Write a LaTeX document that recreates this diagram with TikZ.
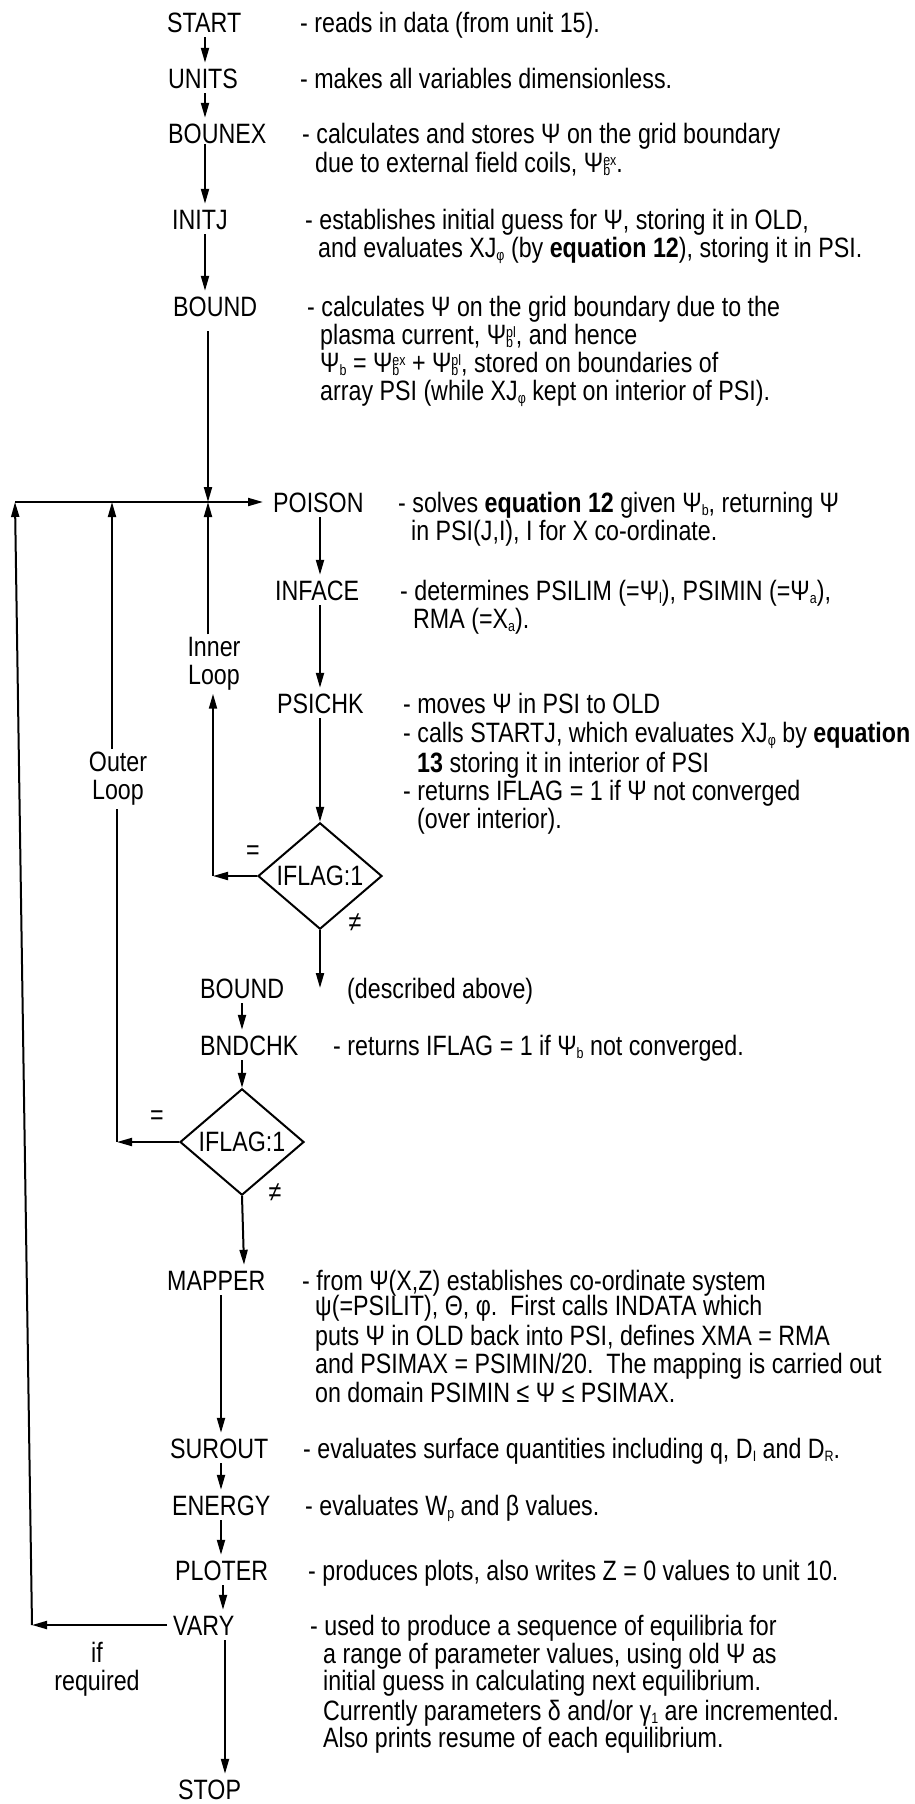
\documentclass[tikz,border=0pt]{standalone}
\usepackage{fontspec}
\setmainfont{Liberation Sans}[FakeStretch=0.83]
\usetikzlibrary{arrows.meta,shapes.geometric}
\newcommand\sfs{\fontsize{15}{15}\selectfont}
\newcommand\lo[1]{\smash{\raisebox{-3pt}{\sfs #1}}}
\newcommand\lohi[2]{\smash{\rlap{\raisebox{-3pt}{\sfs #1}}\raisebox{7pt}{\sfs #2}}}
\begin{document}
\begin{tikzpicture}[x=1pt,y=-1pt,
  every node/.style={font=\fontsize{28}{28}\selectfont},
  prog/.style={anchor=base west, inner xsep=0pt, inner ysep=5pt, text height=20pt, text depth=0pt},
  desc/.style={anchor=base west, inner sep=0pt},
  loopl/.style={align=center, inner sep=3pt},
  dia/.style={diamond, draw, line width=2pt, minimum width=124pt, minimum height=72pt, inner sep=0pt},
  arr/.style={line width=2pt, -{Triangle[length=15pt,width=8pt]}},
  ln/.style={line width=2pt}]
\fill[white] (0,0) rectangle (914,1804);
\useasboundingbox (0,0) rectangle (914,1804);

% program nodes
\node[prog] (start) at (167,32) {START};
\node[prog] (units) at (168,88) {UNITS};
\node[prog] (bounex) at (168,143) {BOUNEX};
\node[prog] (initj) at (172,229) {INITJ};
\node[prog] (bound) at (173,316) {BOUND};
\node[prog] (poison) at (273,512) {POISON};
\node[prog] (inface) at (275,600) {INFACE};
\node[prog] (psichk) at (277,713) {PSICHK};
\node[dia] (d1) at (320,876) {IFLAG:1};
\node[prog] (bound2) at (200,998) {BOUND};
\node[prog] (bndchk) at (200,1055) {BNDCHK};
\node[dia] (d2) at (242,1142) {IFLAG:1};
\node[prog] (mapper) at (167,1290) {MAPPER};
\node[prog] (surout) at (170,1458) {SUROUT};
\node[prog] (energy) at (172,1515) {ENERGY};
\node[prog] (ploter) at (175,1580) {PLOTER};
\node[prog] (vary) at (173,1635) {VARY};
\node[prog] (stop) at (178,1799) {STOP};

% loop labels
\node[loopl] (inner) at (214,664) {Inner\\Loop};
\node[loopl] (outer) at (118,779) {Outer\\Loop};
\node[loopl] (ifreq) at (97,1669) {if\\required};
\node (eq1) at (253,853) {=};
\node (ne1) at (355,923) {≠};
\node (eq2) at (157,1118) {=};
\node (ne2) at (275,1193) {≠};

% descriptions
\node[desc] (t1) at (300,32) {- reads in data (from unit 15).};
\node[desc] (t2) at (300,88) {- makes all variables dimensionless.};
\node[desc] (t3a) at (302,143) {- calculates and stores Ψ on the grid boundary};
\node[desc] (t3b) at (315,172) {due to external field coils, Ψ\lohi{b}{ex}.};
\node[desc] (t4a) at (305,229) {- establishes initial guess for Ψ, storing it in OLD,};
\node[desc] (t4b) at (318,257) {and evaluates XJ\lo{φ} (by \textbf{equation 12}), storing it in PSI.};
\node[desc] (t5a) at (307,316) {- calculates Ψ on the grid boundary due to the};
\node[desc] (t5b) at (320,344) {plasma current, Ψ\lohi{b}{pl}, and hence};
\node[desc] (t5c) at (320,372) {Ψ\lo{b} = Ψ\lohi{b}{ex} + Ψ\lohi{b}{pl}, stored on boundaries of};
\node[desc] (t5d) at (320,400) {array PSI (while XJ\lo{φ} kept on interior of PSI).};
\node[desc] (t6a) at (398,512) {- solves \textbf{equation 12} given Ψ\lo{b}, returning Ψ};
\node[desc] (t6b) at (411,540) {in PSI(J,I), I for X co-ordinate.};
\node[desc] (t7a) at (400,600) {- determines PSILIM (=Ψ\lo{l}), PSIMIN (=Ψ\lo{a}),};
\node[desc] (t7b) at (413,628) {RMA (=X\lo{a}).};
\node[desc] (t8a) at (403,713) {- moves Ψ in PSI to OLD};
\node[desc] (t8b) at (403,742) {- calls STARTJ, which evaluates XJ\lo{φ} by \textbf{equation}};
\node[desc] (t8c) at (417,772) {\textbf{13} storing it in interior of PSI};
\node[desc] (t8d) at (403,800) {- returns IFLAG = 1 if Ψ not converged};
\node[desc] (t8e) at (417,828) {(over interior).};
\node[desc] (t9) at (347,998) {(described above)};
\node[desc] (t10) at (333,1055) {- returns IFLAG = 1 if Ψ\lo{b} not converged.};
\node[desc] (t11a) at (302,1290) {- from Ψ(X,Z) establishes co-ordinate system};
\node[desc] (t11b) at (315,1315) {ψ(=PSILIT), Θ, φ.\ \ First calls INDATA which};
\node[desc] (t11c) at (315,1345) {puts Ψ in OLD back into PSI, defines XMA = RMA};
\node[desc] (t11d) at (315,1373) {and PSIMAX = PSIMIN/20.\ \ The mapping is carried out};
\node[desc] (t11e) at (315,1402) {on domain PSIMIN ≤ Ψ ≤ PSIMAX.};
\node[desc] (t12) at (303,1458) {- evaluates surface quantities including q, D\lo{I} and D\lo{R}.};
\node[desc] (t13) at (305,1515) {- evaluates W\lo{p} and β values.};
\node[desc] (t14) at (308,1580) {- produces plots, also writes Z = 0 values to unit 10.};
\node[desc] (t15a) at (310,1635) {- used to produce a sequence of equilibria for};
\node[desc] (t15b) at (323,1663) {a range of parameter values, using old Ψ as};
\node[desc] (t15c) at (323,1690) {initial guess in calculating next equilibrium.};
\node[desc] (t15d) at (323,1720) {Currently parameters δ and/or γ\lo{1} are incremented.};
\node[desc] (t15e) at (323,1747) {Also prints resume of each equilibrium.};

% column / junction coordinates
\coordinate (cA) at (205,0);
\coordinate (cD) at (221,0);
\coordinate (jL) at (15,502);
\coordinate (jM) at (112,502);
\coordinate (jI) at (208,502);
\coordinate (cI) at (213,876);
\coordinate (cM) at (117,1142);
\coordinate (cL) at (32,1635);

% main chain
\draw[arr] (cA |- start.south) -- (cA |- units.north);
\draw[arr] (cA |- units.south) -- (cA |- bounex.north);
\draw[arr] ([yshift=4pt]cA |- bounex.south) -- (cA |- initj.north);
\draw[arr] (cA |- initj.south) -- (cA |- bound.north);
\draw[arr, shorten <=10pt] (bound.south -| jI) -- (jI);
\draw[arr] (jL) -- ([xshift=-10pt]poison.west);
\draw[arr] (d1.north |- poison.south) -- (d1.north |- inface.north);
\draw[arr] (d1.north |- inface.south) -- (d1.north |- psichk.north);
\draw[arr] (d1.north |- psichk.south) -- (d1.north);
\draw[arr] (d1.south) -- (d1.south |- bound2.center);
\draw[arr] (bound2.south -| d2.north) -- (bndchk.north -| d2.north);
\draw[arr] (bndchk.south -| d2.north) -- (d2.north);
\draw[arr] (d2.south) -- ([xshift=2pt]d2.south |- mapper.north);
\draw[arr] (cD |- mapper.south) -- (cD |- surout.north);
\draw[arr] (cD |- surout.south) -- (cD |- energy.north);
\draw[arr] (cD |- energy.south) -- (cD |- ploter.north);
\draw[arr] ([xshift=2pt]cD |- ploter.south) -- ([xshift=2pt]cD |- vary.north);
\draw[arr] ([xshift=4pt]cD |- vary.south) -- ([xshift=4pt]cD |- stop.north);

% inner loop
\draw[arr] (d1.west) -- (cI);
\draw[arr] (cI) -- (cI |- inner.south);
\draw[arr] (inner.north -| jI) -- (jI);

% outer loop
\draw[arr] (d2.west) -- (cM);
\draw[ln] (cM) -- (cM |- outer.south);
\draw[arr] (outer.north -| jM) -- (jM);

% if required loop
\draw[arr] ([xshift=-6pt]vary.west) -- (cL |- vary.west);
\draw[arr] (cL |- vary.west) -- (jL);
\end{tikzpicture}
\end{document}
